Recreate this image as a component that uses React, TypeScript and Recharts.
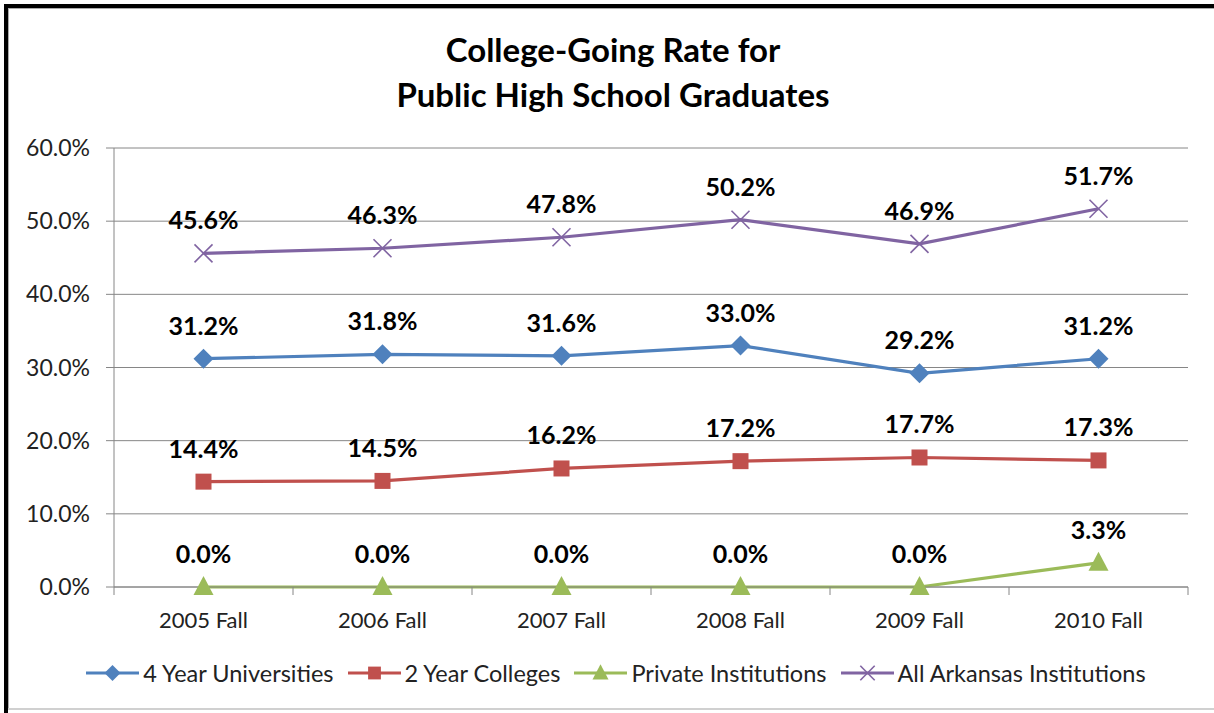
import { LineChart, Line, XAxis, YAxis, CartesianGrid, LabelList } from 'recharts'

const categories = ['2005 Fall', '2006 Fall', '2007 Fall', '2008 Fall', '2009 Fall', '2010 Fall']
const fourYear = [31.2, 31.8, 31.6, 33.0, 29.2, 31.2]
const twoYear = [14.4, 14.5, 16.2, 17.2, 17.7, 17.3]
const privateInst = [0.0, 0.0, 0.0, 0.0, 0.0, 3.3]
const allArkansas = [45.6, 46.3, 47.8, 50.2, 46.9, 51.7]
const yTicks = [0, 10, 20, 30, 40, 50, 60]

const FONT = 'Lato, "Open Sans", sans-serif'

const series = [
  { key: 'four', name: '4 Year Universities', color: '#4F81BD', shape: 'diamond' },
  { key: 'two', name: '2 Year Colleges', color: '#C0504D', shape: 'square' },
  { key: 'priv', name: 'Private Institutions', color: '#9BBB59', shape: 'triangle' },
  { key: 'all', name: 'All Arkansas Institutions', color: '#8064A2', shape: 'cross' },
]

const data = categories.map((c, i) => ({
  name: c,
  four: fourYear[i],
  two: twoYear[i],
  priv: privateInst[i],
  all: allArkansas[i],
}))

function Marker({ shape, color, cx, cy, s = 1 }: { shape: string; color: string; cx: number; cy: number; s?: number }) {
  if (shape === 'diamond') {
    const r = 10 * s
    return <polygon points={`${cx},${cy - r} ${cx + r},${cy} ${cx},${cy + r} ${cx - r},${cy}`} fill={color} />
  }
  if (shape === 'square') {
    const r = 8 * s
    return <rect x={cx - r} y={cy - r} width={2 * r} height={2 * r} fill={color} />
  }
  if (shape === 'triangle') {
    return (
      <polygon
        points={`${cx},${cy - 11 * s} ${cx + 10 * s},${cy + 8 * s} ${cx - 10 * s},${cy + 8 * s}`}
        fill={color}
      />
    )
  }
  const r = 9 * s
  return (
    <g stroke={color} strokeWidth={1.6}>
      <line x1={cx - r} y1={cy - r} x2={cx + r} y2={cy + r} />
      <line x1={cx - r} y1={cy + r} x2={cx + r} y2={cy - r} />
    </g>
  )
}

const makeDot = (shape: string, color: string) => (props: any) => {
  const { cx, cy, index } = props
  if (cx == null || cy == null) return <g key={index} />
  return <Marker key={index} shape={shape} color={color} cx={cx} cy={cy} />
}

function ValueLabel(props: any) {
  const { x, y, value } = props
  return (
    <text
      x={x}
      y={y - 34}
      textAnchor="middle"
      dominantBaseline="central"
      fontFamily={FONT}
      fontWeight={700}
      fontSize={25}
      fill="#000"
    >
      {Number(value).toFixed(1)}%
    </text>
  )
}

const HALF_BAND = 89.5

function XTick(props: any) {
  const { x, y, payload, index } = props
  return (
    <g>
      <line x1={x - HALF_BAND} y1={y - 8} x2={x - HALF_BAND} y2={y} stroke="#868686" />
      {index === categories.length - 1 && (
        <line x1={x + HALF_BAND} y1={y - 8} x2={x + HALF_BAND} y2={y} stroke="#868686" />
      )}
      <text x={x} y={y + 33} textAnchor="middle" fontFamily={FONT} fontSize={22} fill="#222">
        {payload.value}
      </text>
    </g>
  )
}

function LegendRow() {
  return (
    <div
      style={{
        position: 'absolute',
        top: 657,
        left: 0,
        width: 1232,
        display: 'flex',
        justifyContent: 'center',
        gap: 14,
        fontFamily: FONT,
        fontSize: 23.5,
        color: '#222',
      }}
    >
      {series.map((s) => (
        <div key={s.key} style={{ display: 'flex', alignItems: 'center' }}>
          <svg width={53} height={32}>
            <line x1={0} y1={16} x2={53} y2={16} stroke={s.color} strokeWidth={3} />
            <Marker shape={s.shape} color={s.color} cx={26.5} cy={16} s={0.8} />
          </svg>
          <span style={{ marginLeft: 4 }}>{s.name}</span>
        </div>
      ))}
    </div>
  )
}

const edge = (style: any) => <div style={{ position: 'absolute', ...style }} />

export default function App() {
  return (
    <div style={{ position: 'absolute', left: 0, top: 0, width: 1214, height: 713, background: '#fff', overflow: 'hidden' }}>
      {edge({ left: 4, top: 4, width: 1210, height: 4, background: '#000' })}
      {edge({ left: 4, top: 4, width: 4, height: 709, background: '#000' })}
      {edge({ left: 8, top: 8, width: 1206, height: 1, background: '#aaa' })}
      {edge({ left: 8, top: 8, width: 1, height: 702, background: '#aaa' })}
      {edge({ left: 8, top: 708, width: 1206, height: 2, background: '#d0d0d0' })}
      <div
        style={{
          position: 'absolute',
          top: 27,
          left: 0,
          width: 1226,
          textAlign: 'center',
          fontFamily: FONT,
          fontWeight: 700,
          fontSize: 33,
          lineHeight: '45px',
          color: '#000',
        }}
      >
        College-Going Rate for
        <br />
        Public High School Graduates
      </div>
      <div style={{ position: 'absolute', left: 0, top: 0 }}>
        <LineChart width={1214} height={713} data={data} margin={{ top: 148, right: 26, bottom: 86, left: 24 }}>
          <CartesianGrid vertical={false} stroke="#868686" />
          <XAxis
            dataKey="name"
            padding={{ left: HALF_BAND, right: HALF_BAND }}
            stroke="#868686"
            tickLine={false}
            tick={<XTick />}
            height={40}
            interval={0}
          />
          <YAxis
            domain={[0, 60]}
            ticks={yTicks}
            width={90}
            stroke="#868686"
            tickSize={8}
            tickMargin={16}
            tickFormatter={(v: number) => `${v.toFixed(1)}%`}
            tick={{ fontFamily: FONT, fontSize: 23, fill: '#222' }}
          />
          {series.map((s) => (
            <Line
              key={s.key}
              dataKey={s.key}
              name={s.name}
              stroke={s.color}
              strokeWidth={3.2}
              dot={makeDot(s.shape, s.color)}
              activeDot={false}
              isAnimationActive={false}
            >
              <LabelList dataKey={s.key} content={<ValueLabel />} />
            </Line>
          ))}
        </LineChart>
      </div>
      <LegendRow />
    </div>
  )
}
